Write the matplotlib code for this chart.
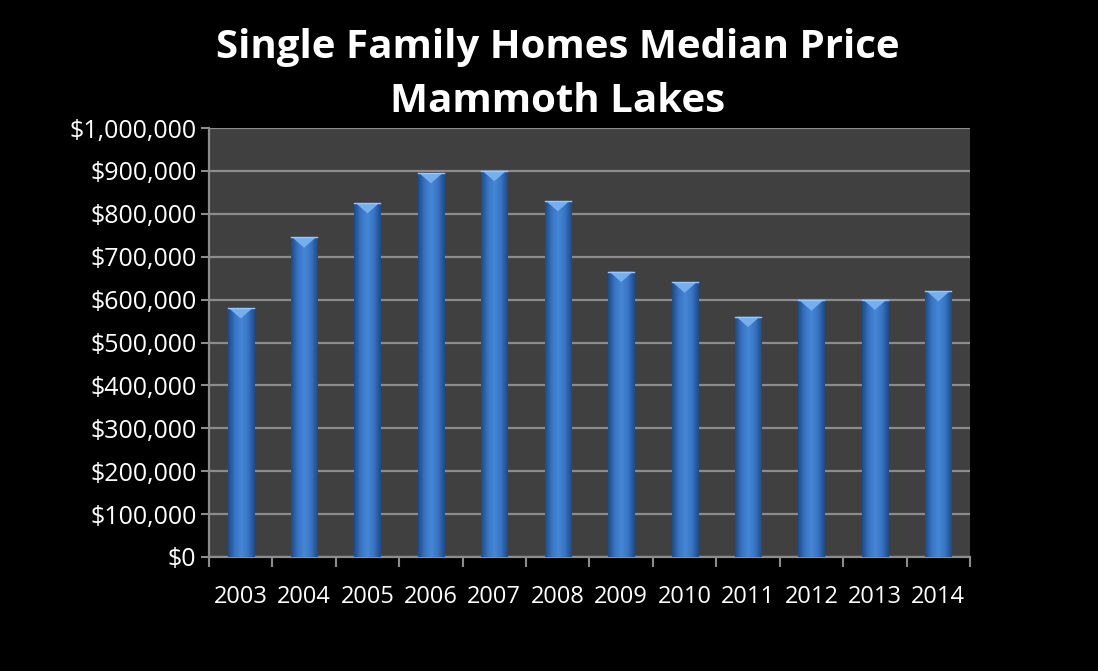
import numpy as np
import matplotlib.pyplot as plt
from matplotlib.patches import Polygon
from matplotlib.colors import LinearSegmentedColormap
from matplotlib.ticker import FuncFormatter, MultipleLocator

years = ['2003', '2004', '2005', '2006', '2007', '2008',
         '2009', '2010', '2011', '2012', '2013', '2014']
prices = [580000, 745000, 825000, 895000, 900000, 830000,
          665000, 640000, 560000, 598000, 600000, 620000]

title = 'Single Family Homes Median Price\nMammoth Lakes'

plt.rcParams['font.family'] = ['Open Sans', 'DejaVu Sans']

fig = plt.figure(figsize=(10.98, 6.71), dpi=100, facecolor='black')
ax = fig.add_axes([0.1903, 0.1699, 0.6931, 0.6393])
ax.set_facecolor('#404040')

x = np.arange(len(years))
w = 0.41
bars = ax.bar(x, prices, width=w, color='#3b78c9', zorder=3)

# bevel look: horizontal gradient clipped to each bar, lighter triangle on top
cmap = LinearSegmentedColormap.from_list(
    'bev', ['#1f4a86', '#3874c4', '#4788d6', '#3874c4', '#1f4a86'])
grad = np.linspace(0, 1, 64).reshape(1, -1)
for b, v in zip(bars, prices):
    x0 = b.get_x()
    x1 = x0 + b.get_width()
    im = ax.imshow(grad, cmap=cmap, extent=[x0, x1, 0, v], aspect='auto',
                   zorder=4, interpolation='bicubic')
    im.set_clip_path(b)
    tri = Polygon([[x0 + 0.02, v], [x1 - 0.02, v], [(x0 + x1) / 2, v - 24000]],
                  closed=True, facecolor='#78aeec', edgecolor='none', zorder=5)
    ax.add_patch(tri)
    ax.plot([x0, x1], [v, v], color='#9cc8f8', lw=1, zorder=6)

ax.set_xlim(-0.5, len(years) - 0.5)
ax.set_ylim(0, 1000000)
ax.yaxis.set_major_locator(MultipleLocator(100000))
ax.yaxis.set_major_formatter(FuncFormatter(lambda v, p: '${:,.0f}'.format(v)))
ax.grid(axis='y', color='#8c8c8c', lw=1.6, zorder=1)
ax.set_axisbelow(True)

ax.set_xticks(x)
ax.set_xticklabels(years)
ax.set_xticks(np.arange(len(years) + 1) - 0.5, minor=True)
ax.tick_params(axis='x', which='major', length=0, pad=20, labelsize=17,
               colors='white')
ax.tick_params(axis='x', which='minor', length=7, width=1.5, color='#8c8c8c')
ax.tick_params(axis='y', length=6, width=1.5, color='#8c8c8c', labelsize=18,
               labelcolor='white', pad=3)

for s in ['top', 'right']:
    ax.spines[s].set_visible(False)
for s in ['left', 'bottom']:
    ax.spines[s].set_color('#8c8c8c')
    ax.spines[s].set_linewidth(1.6)

fig.text(0.508, 0.889, title, ha='center', va='center', color='white',
         fontsize=29, fontweight='bold', linespacing=1.48)

fig.savefig('out.png', dpi=100, facecolor='black')
